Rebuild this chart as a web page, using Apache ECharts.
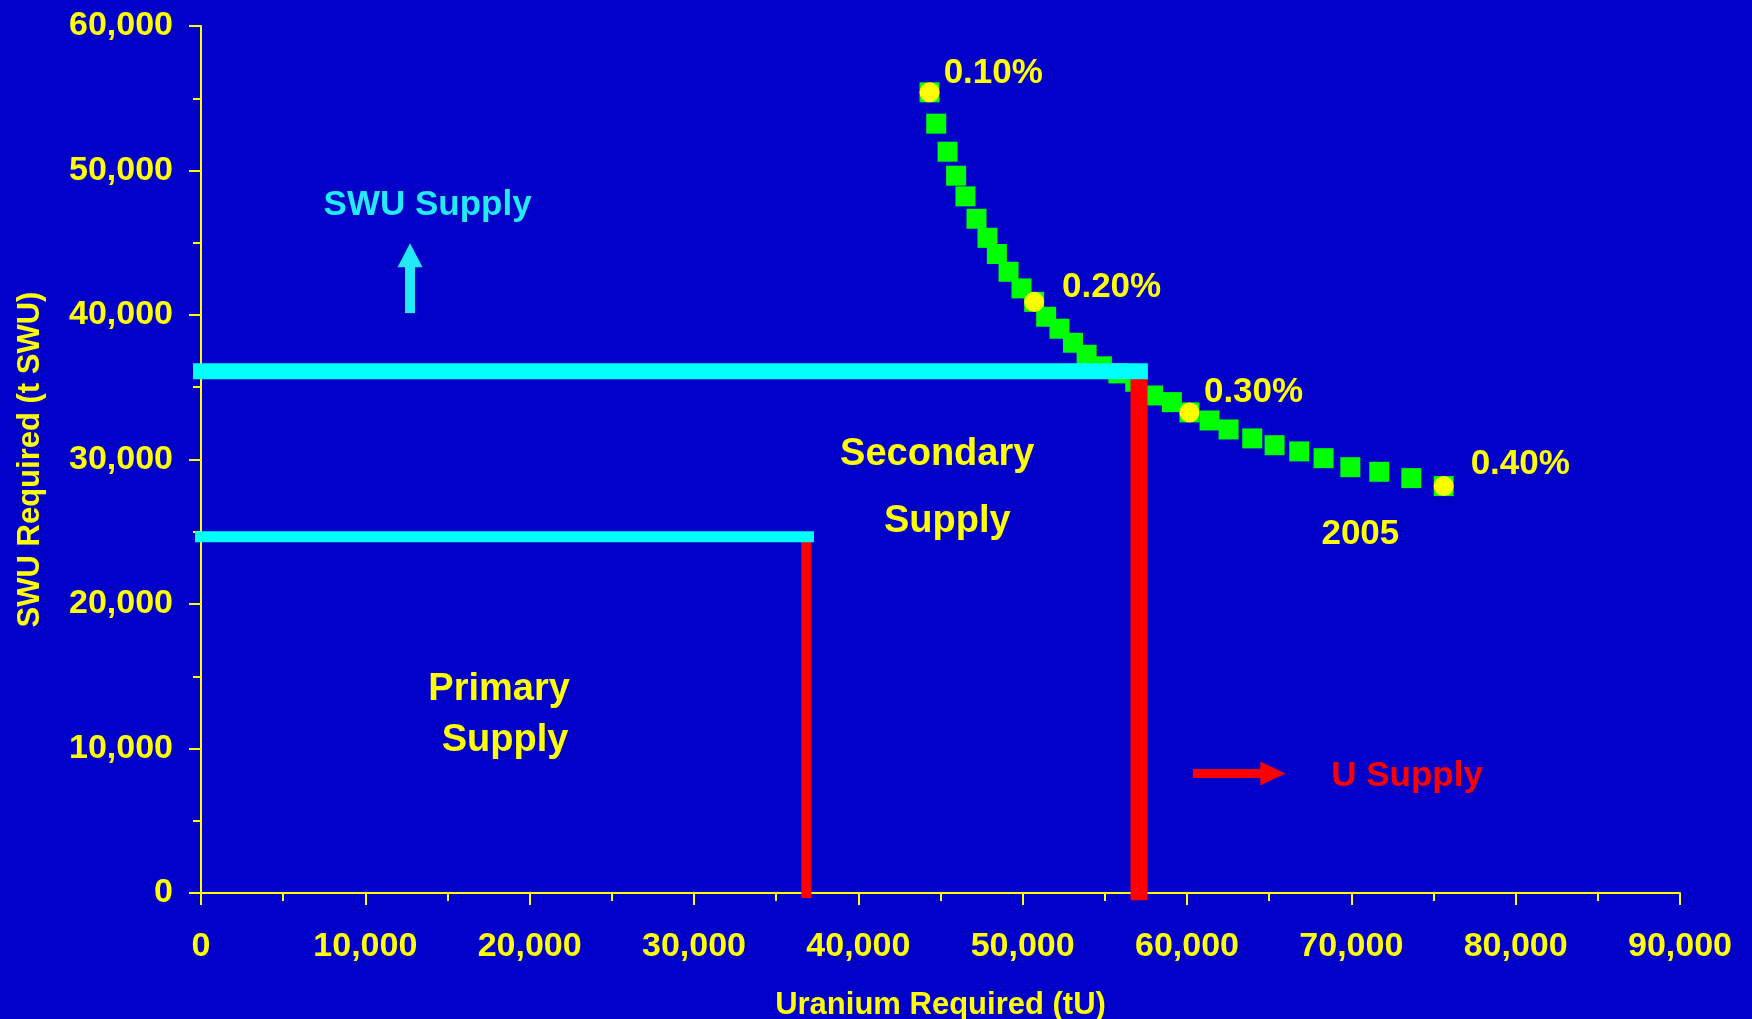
<!DOCTYPE html>
<html>
<head>
<meta charset="utf-8">
<title>SWU vs Uranium requirement</title>
<script src="https://cdn.jsdelivr.net/npm/echarts@6/dist/echarts.min.js"></script>
<style>
  html, body { margin: 0; padding: 0; background: #0000c8; }
  #chart { width: 1752px; height: 1019px; }
</style>
</head>
<body>
<div id="chart"></div>
<script>
  // tails assay curve (2005): uranium required (tU) vs SWU required (t SWU)
  const curveX = [44330, 44740, 45430, 45950, 46520, 47190, 47860, 48430, 49140, 49930,
    50700, 51430, 52240, 53060, 53890, 54820, 55820, 56850, 57930, 59080,
    60150, 61370, 62530, 63970, 65330, 66830, 68310, 69940, 71700, 73650, 75620]
  const curveY = [55410, 53240, 51300, 49640, 48210, 46660, 45340, 44220, 42990, 41840,
    40910, 39880, 39050, 38080, 37250, 36450, 35960, 35380, 34430, 33970,
    33260, 32700, 32080, 31460, 30990, 30560, 30090, 29470, 29150, 28710, 28160]

  // highlighted tails assays
  const assayNames = ['0.10%', '0.20%', '0.30%', '0.40%']
  const assayX = [44330, 50700, 60150, 75620]
  const assayY = [55410, 40910, 33260, 28160]

  // supply levels
  const primarySwuLine = [[-490, 24650], [37300, 24650]]
  const totalSwuLine = [[-580, 36100], [57620, 36100]]
  const primaryULine = [[36830, -350], [36830, 24650]]
  const totalULine = [[57080, -500], [57080, 36100]]

  // arrows (from, to)
  const swuArrow = [[12720, 40130], [12720, 44130]]
  const uArrow = [[60360, 8270], [65220, 8270]]

  // text notes in data coordinates
  const notes = [
    { text: '0.10%', x: 48210, y: 56950, kind: 'pct' },
    { text: '0.20%', x: 55410, y: 42120, kind: 'pct' },
    { text: '0.30%', x: 64050, y: 34860, kind: 'pct' },
    { text: '0.40%', x: 80280, y: 29900, kind: 'pct' },
    { text: '2005', x: 70550, y: 25050, kind: 'pct' },
    { text: 'Secondary', x: 44800, y: 30580, kind: 'region' },
    { text: 'Supply', x: 45410, y: 25940, kind: 'region' },
    { text: 'Primary', x: 18140, y: 14310, kind: 'region' },
    { text: 'Supply', x: 18500, y: 10780, kind: 'region' },
    { text: 'SWU Supply', x: 13790, y: 47780, kind: 'swu' },
    { text: 'U Supply', x: 73390, y: 8300, kind: 'u' }
  ]

  const font = 'Arial, "Liberation Sans", sans-serif'
  const yellow = '#ffff00'
  const cyan = '#00ffff'
  const red = '#ff0000'
  const noteStyle = {
    pct: { color: yellow, fontSize: 35 },
    region: { color: yellow, fontSize: 38 },
    swu: { color: '#22eaf8', fontSize: 35 },
    u: { color: red, fontSize: 35 }
  }

  const chart = echarts.init(document.getElementById('chart'))

  function axisStyle(name, nameGap, margin) {
    return {
      type: 'value',
      name: name,
      nameLocation: 'middle',
      nameGap: nameGap,
      nameTextStyle: { color: yellow, fontSize: 31, fontWeight: 'bold', fontFamily: font },
      interval: 10000,
      axisLine: { show: true, onZero: false, lineStyle: { color: yellow, width: 2 } },
      axisTick: { show: true, length: 12, lineStyle: { color: yellow, width: 2 } },
      minorTick: { show: true, splitNumber: 2, length: 8, lineStyle: { color: yellow, width: 2 } },
      axisLabel: {
        color: yellow, fontSize: 34, fontWeight: 'bold', fontFamily: font, margin: margin,
        formatter: function(v) { return v.toLocaleString('en-US') }
      },
      splitLine: { show: false },
      minorSplitLine: { show: false }
    }
  }

  function segment(data, color, width, z) {
    return {
      type: 'line',
      data: data,
      symbol: 'none',
      clip: false,
      silent: true,
      z: z,
      lineStyle: { color: color, width: width, cap: 'butt' }
    }
  }

  function arrow(pts, color, width, head) {
    return [
      { coord: pts[0], lineStyle: { color: color, width: width, type: 'solid' }, symbolSize: head },
      { coord: pts[1], symbolSize: head }
    ]
  }

  const xAxis = axisStyle('Uranium Required (tU)', 97, 37)
  xAxis.min = 0
  xAxis.max = 90000
  const yAxis = axisStyle('SWU Required (t SWU)', 155, 28)
  yAxis.min = 0
  yAxis.max = 60000

  chart.setOption({
    backgroundColor: '#0000c8',
    animation: false,
    textStyle: { fontFamily: font },
    grid: { left: 201, right: 72, top: 26, bottom: 126, outerBoundsMode: 'none' },
    xAxis: xAxis,
    yAxis: yAxis,
    series: [
      {
        name: 'curve',
        type: 'scatter',
        symbol: 'rect',
        symbolSize: 20,
        z: 2,
        itemStyle: { color: '#00ff00', opacity: 1 },
        data: curveX.map((x, i) => [x, curveY[i]])
      },
      segment(primaryULine, red, 10, 3),
      segment(totalULine, red, 17, 3),
      segment(primarySwuLine, cyan, 11, 4),
      segment(totalSwuLine, cyan, 16, 4),
      {
        name: 'assay',
        type: 'scatter',
        symbol: 'circle',
        symbolSize: 20,
        z: 5,
        itemStyle: { color: yellow, opacity: 1 },
        data: assayX.map((x, i) => ({ name: assayNames[i], value: [x, assayY[i]] }))
      },
      {
        name: 'notes',
        type: 'scatter',
        symbolSize: 0,
        silent: true,
        z: 6,
        itemStyle: { opacity: 1 },
        data: notes.map(n => ({
          name: n.text,
          value: [n.x, n.y],
          label: {
            show: true,
            position: 'inside',
            offset: [0, 3],
            formatter: '{b}',
            fontWeight: 'bold',
            fontFamily: font,
            align: 'center',
            verticalAlign: 'middle',
            color: noteStyle[n.kind].color,
            fontSize: noteStyle[n.kind].fontSize
          }
        })),
        markLine: {
          silent: true,
          animation: false,
          symbol: ['none', 'triangle'],
          label: { show: false },
          emphasis: { disabled: true },
          data: [
            arrow(swuArrow, '#22eaf8', 10, [25, 24]),
            arrow(uArrow, red, 9, [24, 25])
          ]
        }
      }
    ]
  })
</script>
</body>
</html>
